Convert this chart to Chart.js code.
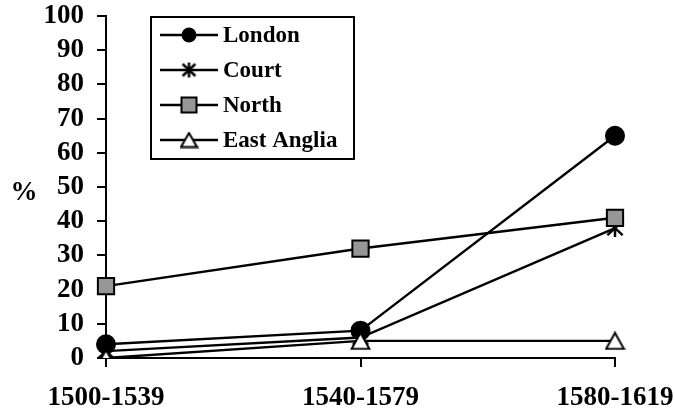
<!DOCTYPE html>
<html>
<head>
<meta charset="utf-8">
<script src="https://cdn.jsdelivr.net/npm/chart.js@4/dist/chart.umd.min.js"></script>
<style>
  html, body { margin: 0; padding: 0; background: #fff; }
  #wrap { width: 675px; height: 412px; position: relative; }
</style>
</head>
<body>
<div id="wrap"><canvas id="c" width="675" height="412"></canvas></div>
<script>
const categories = ['1500-1539', '1540-1579', '1580-1619'];
const seriesNames = ['London', 'Court', 'North', 'East Anglia'];
const london = [4, 8, 65];
const court = [2, 6, 38];
const north = [21, 32, 41];
const eastAnglia = [0, 5, 5];
const yMin = 0, yMax = 100, yStep = 10;
const yTitle = '%';

const FONT = '"Liberation Serif", "Times New Roman", serif';

function makeAsterisk(size, lw) {
  const c = document.createElement('canvas');
  c.width = size; c.height = size;
  const g = c.getContext('2d');
  g.strokeStyle = '#000'; g.lineWidth = lw; g.lineCap = 'butt';
  const m = size / 2, r = size / 2 - 1;
  g.beginPath();
  g.moveTo(m, m - r); g.lineTo(m, m + r);
  g.moveTo(m - r * 0.85, m - r * 0.8); g.lineTo(m + r * 0.85, m + r * 0.8);
  g.moveTo(m + r * 0.85, m - r * 0.8); g.lineTo(m - r * 0.85, m + r * 0.8);
  g.stroke();
  return c;
}
function makeTriangle(w, h) {
  const c = document.createElement('canvas');
  c.width = w; c.height = h;
  const g = c.getContext('2d');
  g.fillStyle = '#fff'; g.strokeStyle = '#000'; g.lineWidth = 2; g.lineJoin = 'miter';
  g.beginPath();
  g.moveTo(w / 2, 1.5); g.lineTo(w - 1.5, h - 1.5); g.lineTo(1.5, h - 1.5); g.closePath();
  g.fill(); g.stroke();
  return c;
}
const asteriskBig = makeAsterisk(20, 2.5), asteriskSmall = makeAsterisk(17, 2.5);
const triBig = makeTriangle(21, 19), triSmall = makeTriangle(19, 17);

const base = { borderColor: '#000', borderWidth: 2.4, tension: 0, fill: false, pointBorderColor: '#000', pointBorderWidth: 2 };
const datasets = [
  Object.assign({}, base, { label: seriesNames[0], data: london, pointStyle: 'circle', pointRadius: 9, pointBackgroundColor: '#000', order: 4 }),
  Object.assign({}, base, { label: seriesNames[1], data: court, pointStyle: asteriskBig, pointRadius: 10, order: 3 }),
  Object.assign({}, base, { label: seriesNames[2], data: north, pointStyle: 'rect', pointRadius: 11.5, pointBackgroundColor: '#969696', order: 2 }),
  Object.assign({}, base, { label: seriesNames[3], data: eastAnglia, pointStyle: triBig, pointRadius: 10, order: 1 })
];
const legendMarkers = [
  { type: 'circle', r: 7.5, fill: '#000' },
  { type: 'img', img: asteriskSmall },
  { type: 'rect', s: 15, fill: '#969696' },
  { type: 'img', img: triSmall }
];

const overlay = {
  id: 'overlay',
  afterDraw(chart) {
    const ctx = chart.ctx;
    ctx.save();
    ctx.fillStyle = '#000';
    ctx.font = 'bold 27px ' + FONT;
    ctx.textAlign = 'center'; ctx.textBaseline = 'middle';
    ctx.fillText(yTitle, 24, 193);
    ctx.lineWidth = 2; ctx.strokeStyle = '#000';
    ctx.strokeRect(151, 17, 203, 142);
    ctx.font = 'bold 23px ' + FONT;
    ctx.textAlign = 'left';
    chart.data.datasets.forEach((ds, i) => {
      const y = 35 + i * 35;
      ctx.beginPath(); ctx.moveTo(160, y); ctx.lineTo(218, y); ctx.lineWidth = 2.4; ctx.stroke();
      const mk = legendMarkers[i], mx = 189;
      if (mk.type === 'circle') {
        ctx.beginPath(); ctx.arc(mx, y, mk.r, 0, Math.PI * 2); ctx.fillStyle = mk.fill; ctx.fill();
      } else if (mk.type === 'rect') {
        ctx.fillStyle = mk.fill; ctx.fillRect(mx - mk.s / 2, y - mk.s / 2, mk.s, mk.s);
        ctx.lineWidth = 2; ctx.strokeRect(mx - mk.s / 2, y - mk.s / 2, mk.s, mk.s);
      } else {
        ctx.drawImage(mk.img, mx - mk.img.width / 2, y - mk.img.height / 2);
      }
      ctx.fillStyle = '#000';
      ctx.fillText(ds.label, 223, y + 1);
    });
    ctx.restore();
  }
};

const axisGrid = { display: true, drawOnChartArea: false, drawTicks: true, tickLength: 9, color: '#000', lineWidth: 2 };
const tickFont = { family: FONT, size: 27, weight: 'bold' };

new Chart(document.getElementById('c'), {
  type: 'line',
  data: { labels: categories, datasets },
  options: {
    responsive: false,
    animation: false,
    devicePixelRatio: 1,
    layout: { padding: { top: 16, right: 60, bottom: 0, left: 0 } },
    plugins: { legend: { display: false }, tooltip: { enabled: false } },
    scales: {
      x: {
        type: 'category', offset: false,
        grid: axisGrid,
        border: { display: true, color: '#000', width: 2 },
        ticks: { font: tickFont, color: '#000', padding: 15, maxRotation: 0, autoSkip: false },
        afterFit(s) { s.height = 54; s.paddingLeft = 0; s.paddingRight = 0; }
      },
      y: {
        min: yMin, max: yMax,
        grid: axisGrid,
        border: { display: true, color: '#000', width: 2 },
        ticks: { stepSize: yStep, font: tickFont, color: '#000', padding: 13, autoSkip: false },
        afterFit(s) { s.width = 106; s.paddingTop = 0; s.paddingBottom = 0; }
      }
    }
  },
  plugins: [overlay]
});
</script>
</body>
</html>
